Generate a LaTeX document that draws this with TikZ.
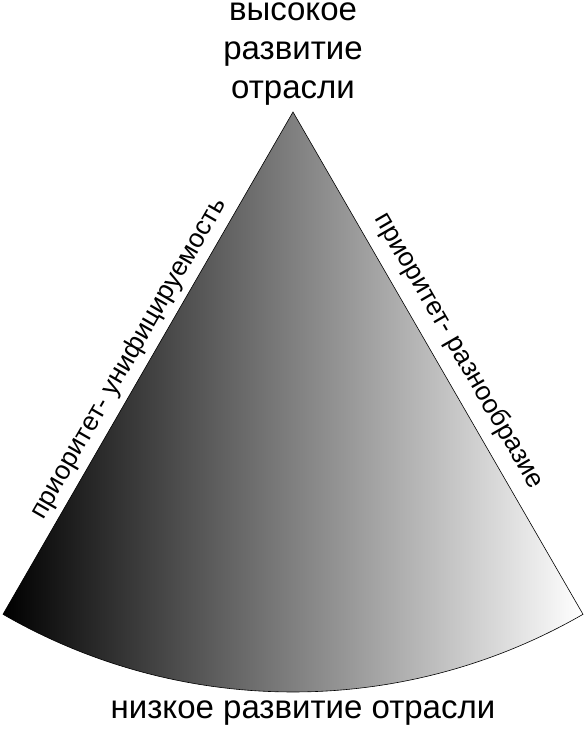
\documentclass[tikz,border=0pt]{standalone}
\usepackage{fontspec}
\setmainfont{Liberation Sans}
\usetikzlibrary{calc}

\begin{document}
\begin{tikzpicture}[x=1pt,y=1pt,
  level/.style={font=\fontsize{33}{39}\selectfont,align=center,inner sep=0},
  side/.style={font=\fontsize{26.5}{30}\selectfont,sloped,above=3pt},
  sector/.style={draw=black,line width=0.6pt,left color=black,right color=white}]

  \useasboundingbox (0,0) rectangle (586,732);

  \coordinate (apex) at (293,620);
  \coordinate (lc) at ($(apex)+(240:580)$);
  \coordinate (rc) at ($(apex)+(300:580)$);

  \path[sector] (apex) -- (lc) arc[start angle=240,end angle=300,radius=580] -- cycle;

  \path (lc) -- node[side,pos=0.49] (unif) {приоритет- унифицируемость} (apex);
  \path (apex) -- node[side,pos=0.5,above=5pt] (divers) {приоритет- разнообразие} (rc);

  \node[level] (high) at (293,678) {высокое\\развитие\\отрасли};
  \node[level] (low) at (303,19) {низкое развитие отрасли};
\end{tikzpicture}
\end{document}
